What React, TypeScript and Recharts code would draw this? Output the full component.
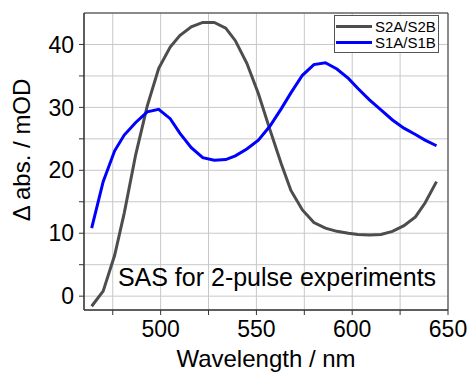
import React from 'react';
import { LineChart, Line, XAxis, YAxis, CartesianGrid, ReferenceArea } from 'recharts';

// wavelength (nm) and spectra (mOD)
const WAVELENGTHS = [464, 470, 476, 481, 487, 493, 499, 505, 510, 516, 522, 528, 534, 539, 545, 551, 557, 563, 568, 574, 580, 586, 592, 598, 603, 609, 615, 621, 627, 633, 638, 644];
const S2A_S2B = [-1.6, 0.8, 6.5, 13.2, 22.5, 30.2, 36.2, 39.6, 41.4, 42.8, 43.5, 43.5, 42.6, 40.6, 37.0, 32.2, 26.5, 21.0, 16.8, 13.7, 11.7, 10.8, 10.3, 10.0, 9.8, 9.7, 9.8, 10.3, 11.2, 12.6, 14.8, 18.2];
const S1A_S1B = [10.8, 18.2, 23.1, 25.6, 27.6, 29.3, 29.7, 28.2, 25.9, 23.6, 22.0, 21.6, 21.7, 22.3, 23.4, 24.8, 27.0, 29.8, 32.3, 35.1, 36.8, 37.1, 36.1, 34.6, 33.0, 31.2, 29.6, 28.0, 26.7, 25.7, 24.8, 23.9];

const X_TICKS = [475, 500, 525, 550, 575, 600, 625, 650];
const Y_TICKS = [0, 5, 10, 15, 20, 25, 30, 35, 40];

const SERIES = [
  { key: 's2', name: 'S2A/S2B', color: '#4d4d4d' },
  { key: 's1', name: 'S1A/S1B', color: '#0000ff' },
];

const FONT = '"Liberation Sans", Arial, sans-serif';

const data = WAVELENGTHS.map((w, i) => ({ w, s2: S2A_S2B[i], s1: S1A_S1B[i] }));

export default function App() {
  return (
    <div style={{ position: 'absolute', left: 0, top: 0, width: 470, height: 372, background: '#fff', fontFamily: FONT }}>
      <LineChart width={470} height={372} data={data} margin={{ top: 13, right: 22, bottom: 12, left: 0 }}>
        <CartesianGrid stroke="#c8c8c8" strokeWidth={1} />
        <XAxis
          dataKey="w"
          type="number"
          domain={[460, 650]}
          ticks={X_TICKS}
          height={50}
          tickSize={5}
          tickMargin={6}
          tickFormatter={(v: number) => (v % 50 === 0 ? String(v) : '')}
          tick={{ fill: '#000', fontSize: 23, fontFamily: FONT }}
          axisLine={{ stroke: '#333' }}
          tickLine={{ stroke: '#333' }}
          allowDataOverflow
        />
        <YAxis
          type="number"
          domain={[-2.2, 45]}
          ticks={Y_TICKS}
          width={84}
          tickSize={5}
          tickMargin={5}
          tickFormatter={(v: number) => (v % 10 === 0 ? String(v) : '')}
          tick={{ fill: '#000', fontSize: 23, fontFamily: FONT }}
          axisLine={{ stroke: '#333' }}
          tickLine={{ stroke: '#333' }}
          allowDataOverflow
        />
        <ReferenceArea x1={460} x2={650} y1={-2.2} y2={45} fill="none" stroke="#333" strokeWidth={1} ifOverflow="visible" />
        {SERIES.map(s => (
          <Line key={s.key} type="linear" dataKey={s.key} name={s.name} stroke={s.color} strokeWidth={3} dot={false} isAnimationActive={false} />
        ))}
        <text x={21} y={150} transform="rotate(-90 21 150)" textAnchor="middle" dominantBaseline="central" fontSize={24} fontFamily={FONT} fill="#000">Δ abs. / mOD</text>
        <text x={266} y={367} textAnchor="middle" fontSize={24} fontFamily={FONT} fill="#000">Wavelength / nm</text>
        <text x={277} y={286} textAnchor="middle" fontSize={25} fontFamily={FONT} fill="#000">SAS for 2-pulse experiments</text>
      </LineChart>
      <div style={{ position: 'absolute', left: 334, top: 15, width: 105, height: 38, border: '1px solid #555', background: '#fff', boxSizing: 'border-box', padding: '2px 0 0 1px' }}>
        {SERIES.map(s => (
          <div key={s.key} style={{ display: 'flex', alignItems: 'center', height: 16, fontSize: 15, color: '#000', whiteSpace: 'nowrap' }}>
            <span style={{ display: 'inline-block', width: 36, height: 3, background: s.color, marginRight: 3 }} />
            {s.name}
          </div>
        ))}
      </div>
    </div>
  );
}
